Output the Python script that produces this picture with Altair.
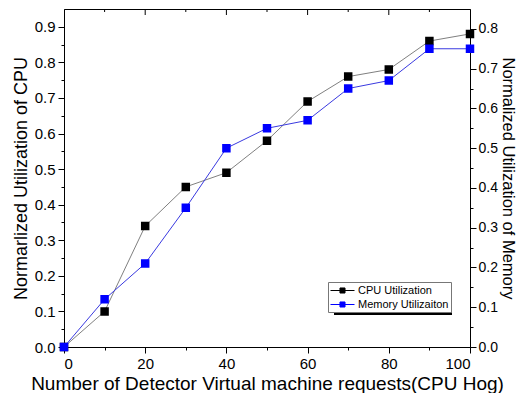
import altair as alt
import pandas as pd

requests = [0, 10, 20, 30, 40, 50, 60, 70, 80, 90, 100]
cpu_util = [0.0, 0.10, 0.34, 0.45, 0.49, 0.58, 0.69, 0.76, 0.78, 0.86, 0.88]
mem_util = [0.0, 0.12, 0.21, 0.35, 0.50, 0.55, 0.57, 0.65, 0.67, 0.75, 0.75]
series_names = ["CPU Utilization", "Memory Utilizaiton"]
top_major = [20, 40, 60, 80]
top_minor = [10, 30, 50, 70, 90]

df = pd.DataFrame({"x": requests, "cpu": cpu_util, "mem": mem_util})

FONT = "Liberation Sans"
x_vals = list(range(0, 101, 10))
cpu_vals = [round(i * 0.05, 2) for i in range(0, 19)]
mem_vals = [round(i * 0.05, 2) for i in range(0, 17)]

major_test = "round(datum.value*100) % 10 == 0"
major_x = "datum.value % 20 == 0"

x_scale = alt.Scale(domain=[0, 100], nice=False, zero=False)

common = dict(
    grid=False, titleFontWeight="normal",
    domainColor="black", tickColor="black", labelColor="black", titleColor="black",
)

x_bottom = alt.Axis(
    orient="bottom", values=x_vals,
    labelExpr=f"{major_x} ? datum.label : ''",
    tickSize={"condition": {"test": major_x, "value": 6}, "value": 3},
    title="Number of Detector Virtual machine requests(CPU Hog)",
    titleFontSize=19, titlePadding=3, labelPadding=3, labelFontSize=15, **common,
)

y_left = alt.Axis(
    orient="left", values=cpu_vals,
    labelExpr=f"{major_test} ? format(datum.value, '.1f') : ''",
    tickSize={"condition": {"test": major_test, "value": 6}, "value": 3},
    title="Normarlized Utilization of CPU",
    titleFontSize=18, titlePadding=4, labelPadding=3, labelFontSize=15, **common,
)
y_right = alt.Axis(
    orient="right", values=mem_vals,
    labelExpr=f"{major_test} ? format(datum.value, '.1f') : ''",
    tickSize={"condition": {"test": major_test, "value": 6}, "value": 3},
    title="Normalized Utilization of Memory",
    titleFontSize=16.5, titlePadding=2, labelPadding=2, labelFontSize=14, **common,
)

color_scale = alt.Scale(domain=series_names, range=["black", "blue"])
legend = alt.Legend(
    orient="none", legendX=264, legendY=273, title=None,
    labelFontSize=11, labelFont=FONT, labelColor="black",
    symbolType="M-2,0H2M-0.42,-0.42H0.42V0.42H-0.42Z",
    symbolSize=144, symbolStrokeWidth=1, symbolOffset=6, labelOffset=9,
    strokeColor="#777777", fillColor="white", padding=2, rowPadding=2,
)

base = alt.Chart(df)

shadow = alt.Chart(pd.DataFrame({"s": [0]})).mark_rect(color="black").encode(
    x=alt.value(270), x2=alt.value(388), y=alt.value(279), y2=alt.value(306)
)

X_b = alt.X("x:Q", scale=x_scale, axis=x_bottom)
Y_cpu = alt.Y("cpu:Q", scale=alt.Scale(domain=[0, 0.95], nice=False), axis=y_left)
Y_mem = alt.Y("mem:Q", scale=alt.Scale(domain=[0, 0.85], nice=False), axis=y_right)

top_ticks_major = alt.Chart(pd.DataFrame({"x": top_major})).mark_rule(
    color="black", strokeWidth=1
).encode(x=X_b, y=alt.value(0), y2=alt.value(6))
top_ticks_minor = alt.Chart(pd.DataFrame({"x": top_minor})).mark_rule(
    color="black", strokeWidth=1
).encode(x=X_b, y=alt.value(0), y2=alt.value(3))

cpu_line = base.mark_line(color="#808080", strokeWidth=1).encode(x=X_b, y=Y_cpu)
cpu_pts = base.transform_calculate(series=f"'{series_names[0]}'").mark_point(
    shape="square", filled=True, size=42, opacity=1
).encode(
    x=X_b, y=Y_cpu,
    fill=alt.Fill("series:N", scale=color_scale, legend=legend),
    stroke=alt.Stroke("series:N", scale=color_scale, legend=legend),
)
mem_line = base.mark_line(color="#3a3ae0", strokeWidth=1).encode(x=X_b, y=Y_mem)
mem_pts = base.transform_calculate(series=f"'{series_names[1]}'").mark_point(
    shape="square", filled=True, size=42, opacity=1
).encode(
    x=X_b, y=Y_mem,
    fill=alt.Fill("series:N", scale=color_scale, legend=legend),
    stroke=alt.Stroke("series:N", scale=color_scale, legend=legend),
)

cpu_layer = alt.layer(shadow, top_ticks_major, top_ticks_minor, cpu_line, cpu_pts)
mem_layer = alt.layer(mem_line, mem_pts)

chart = (
    alt.layer(cpu_layer, mem_layer)
    .resolve_scale(y="independent")
    .resolve_axis(y="independent")
    .properties(
        width=406, height=338, autosize=alt.AutoSizeParams(type="none"),
        padding={"left": 56, "top": 1, "right": 47, "bottom": 46},
        background="white",
    )
    .configure(font=FONT)
    .configure_view(stroke="black", strokeWidth=1)
)

chart.save("out.html", embed_options={"renderer": "svg", "actions": False})
